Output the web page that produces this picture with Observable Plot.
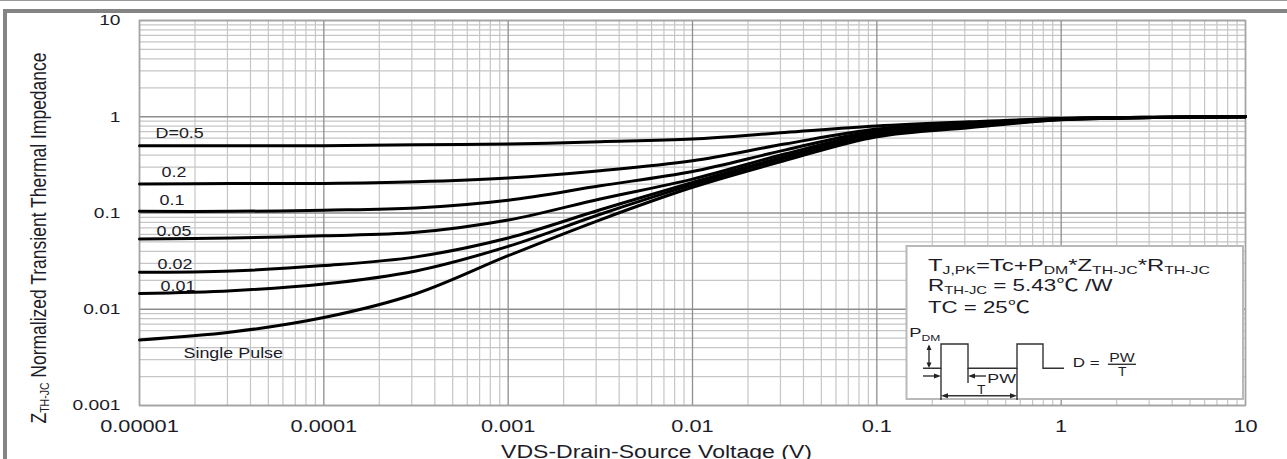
<!DOCTYPE html>
<html><head><meta charset="utf-8">
<script src="https://cdn.jsdelivr.net/npm/d3@7"></script>
<script src="https://cdn.jsdelivr.net/npm/@observablehq/plot@0.6"></script>
<style>
body{margin:0;background:#fff;}
#wrap{position:relative;width:1287px;height:459px;overflow:hidden;font-family:"Liberation Sans",Arial,sans-serif;background:#fff;}
#wrap svg{position:absolute;left:0;top:0;}
.bar{position:absolute;background:#848484;}
</style></head><body>
<div id="wrap"></div>
<script>
// ---- data ----
const pulseWidths = [1e-5, 3.16e-5, 1e-4, 3.16e-4, 1e-3, 3.16e-3, 1e-2, 3.16e-2, 0.1, 0.316, 1, 3.16, 10];
const seriesNames = ["D=0.5", "0.2", "0.1", "0.05", "0.02", "0.01", "Single Pulse"];
const zD05    = [0.50, 0.50, 0.50, 0.512, 0.52, 0.55, 0.587, 0.687, 0.80, 0.885, 0.96, 0.99, 1.0];
const zD02    = [0.20, 0.202, 0.203, 0.211, 0.231, 0.275, 0.349, 0.52, 0.745, 0.86, 0.955, 0.99, 1.0];
const zD01    = [0.104, 0.104, 0.107, 0.113, 0.136, 0.192, 0.27, 0.45, 0.716, 0.84, 0.95, 0.985, 1.0];
const zD005   = [0.0537, 0.055, 0.058, 0.063, 0.0846, 0.14, 0.225, 0.41, 0.687, 0.82, 0.945, 0.985, 1.0];
const zD002   = [0.0242, 0.025, 0.0284, 0.035, 0.055, 0.108, 0.208, 0.385, 0.66, 0.80, 0.94, 0.98, 1.0];
const zD001   = [0.0146, 0.0156, 0.0183, 0.025, 0.045, 0.097, 0.197, 0.373, 0.645, 0.79, 0.935, 0.98, 1.0];
const zSingle = [0.0048, 0.0058, 0.0082, 0.0145, 0.036, 0.085, 0.185, 0.35, 0.62, 0.77, 0.93, 0.98, 1.0];
const xMajor = [1e-5, 1e-4, 1e-3, 1e-2, 1e-1, 1, 10];
const xTickLabels = ["0.00001", "0.0001", "0.001", "0.01", "0.1", "1", "10"];
const yMajor = [0.001, 0.01, 0.1, 1, 10];
const yTickLabels = ["0.001", "0.01", "0.1", "1", "10"];
const minorMultipliers = [2, 3, 4, 5, 6, 7, 8, 9];
const xLabel = "VDS-Drain-Source Voltage (V)";

// ---- build table ----
const seriesValues = [zD05, zD02, zD01, zD005, zD002, zD001, zSingle];
const rows = seriesValues.flatMap((vals, s) => vals.map((z, i) => ({t: pulseWidths[i], z, series: seriesNames[s]})));
const firstPoints = seriesValues.map((vals, s) => ({t: pulseWidths[0], z: vals[0], label: seriesNames[s]}));
const xMinor = xMajor.slice(0, -1).flatMap(d => minorMultipliers.map(k => k * d));
const yMinor = yMajor.slice(0, -1).flatMap(d => minorMultipliers.map(k => k * d));

// label placement (pixel offsets from curve start) — style, not data
const labelOffsets = [[16, -8], [22, -7], [20, -6], [17, -3], [18, -3], [21, -2], [44, 18]];

const S = 1.28; // horizontal stretch of the reference glyphs
const ink = "#1c1c28";

const chart = Plot.plot({
  width: 1287, height: 459,
  marginLeft: 139, marginRight: 42, marginTop: 20, marginBottom: 54,
  x: {type: "log", domain: [1e-5, 10]},
  y: {type: "log", domain: [0.001, 10]},
  style: {fontFamily: "'Liberation Sans', Arial, sans-serif", background: "transparent", color: ink},
  marks: [
    Plot.ruleX(xMinor, {stroke: "#c6c6c6", strokeWidth: 1.2}),
    Plot.ruleY(yMinor, {stroke: "#c6c6c6", strokeWidth: 1.2}),
    Plot.ruleX(xMajor, {stroke: "#8e8e8e", strokeWidth: 1.3}),
    Plot.ruleY(yMajor, {stroke: "#8e8e8e", strokeWidth: 1.3}),
    Plot.frame({stroke: "#a4a4a4", strokeWidth: 1.5}),
    Plot.axisX(xMajor, {tickSize: 0, tickPadding: 14, fontSize: 17, label: null,
      tickFormat: d => xTickLabels[xMajor.indexOf(d)]}),
    Plot.axisY(yMajor, {tickSize: 0, tickPadding: 19, fontSize: 15, label: null,
      tickFormat: d => yTickLabels[yMajor.indexOf(d)]}),
    Plot.line(rows, {x: "t", y: "z", z: "series", stroke: "#000", strokeWidth: 3, curve: "catmull-rom"}),
    ...firstPoints.map((p, i) => Plot.text([p], {x: "t", y: "z", text: "label", textAnchor: "start",
      lineAnchor: "bottom", dx: labelOffsets[i][0], dy: labelOffsets[i][1], fontSize: 14, fill: ink})),
    Plot.text([xLabel], {frameAnchor: "bottom", dx: -36, dy: 52, lineAnchor: "bottom", fontSize: 18, fill: ink})
  ]
});

const wrap = document.getElementById("wrap");
wrap.appendChild(chart);
// frame bars of the reference picture
[["left:0;top:0;width:1287px;height:1px;background:#9a9a9a"],
 ["left:3px;top:9px;width:1284px;height:3.5px"],
 ["left:3px;top:9px;width:4px;height:450px"]].forEach(([st]) => {
  const d = document.createElement("div"); d.className = "bar"; d.setAttribute("style", st); wrap.appendChild(d);
});

function stretch(el, s, anchor) {
  const b = el.getBBox();
  const ta = anchor || getComputedStyle(el).textAnchor;
  const ax = ta === "end" ? b.x + b.width : ta === "middle" ? b.x + b.width / 2 : b.x;
  const t = el.getAttribute("transform") || "";
  el.setAttribute("transform", `${t} translate(${ax},0) scale(${s},1) translate(${-ax},0)`);
}
chart.querySelectorAll("text").forEach(el => stretch(el, S));

const svg = d3.select(chart);
// rotated y label with subscript
const yl = svg.append("text")
  .attr("transform", `translate(45.5,238) scale(${S},1) rotate(-90)`)
  .attr("text-anchor", "middle").attr("fill", ink).attr("font-size", 17.5);
yl.append("tspan").text("Z");
yl.append("tspan").attr("font-size", 10.5).attr("dy", 3).text("TH-JC");
yl.append("tspan").attr("dy", -3).text(" Normalized Transient Thermal Impedance");

// annotation box
const g = svg.append("g").attr("fill", ink).attr("text-anchor", "start")
  .attr("font-family", "'Liberation Sans', Arial, sans-serif");
g.append("rect").attr("x", 906.5).attr("y", 246).attr("width", 336.5).attr("height", 153)
  .attr("fill", "#fff").attr("stroke", "#b9b9b9").attr("stroke-width", 2);
function richLine(parts, x, y, size, target) {
  const t = g.append("text").attr("x", x).attr("y", y).attr("font-size", size).attr("text-anchor", "start");
  parts.forEach(([txt, kind]) => {
    const sp = t.append("tspan").attr("font-size", kind === 1 ? size * 0.66 : size)
      .attr("baseline-shift", kind === 1 ? "-3" : null).text(txt);
    if (kind === 2) sp.attr("font-family", "'Noto Sans CJK SC', sans-serif");
  });
  const b = t.node().getBBox();
  stretch(t.node(), target / b.width, "start");
  return t;
}
richLine([["T"], ["J,PK", 1], ["=Tc+P"], ["DM", 1], ["*Z"], ["TH-JC", 1], ["*R"], ["TH-JC", 1]], 928, 270.7, 16.5, 282);
richLine([["R"], ["TH-JC", 1], [" = 5.43"], ["℃", 2], [" /W"]], 928, 290.7, 16.5, 185);
richLine([["TC = 25"], ["℃", 2]], 928, 313.3, 16.5, 102);
richLine([["P"], ["DM", 1]], 909.3, 337.3, 13, 31);
const ln = (pts) => g.append("path").attr("d", d3.line()(pts)).attr("fill", "none").attr("stroke", "#333").attr("stroke-width", 1.4);
const tri = (pts) => g.append("path").attr("d", d3.line()(pts) + "Z").attr("fill", "#222");
ln([[923, 368.3], [941, 368.3], [941, 344], [968, 344], [968, 368.3], [1017, 368.3], [1017, 344], [1043, 344], [1043, 368.3], [1064, 368.3]]);
// vertical double arrow P_DM
ln([[929, 346], [929, 366]]); tri([[926.5, 350], [931.5, 350], [929, 344.5]]); tri([[926.5, 362.5], [931.5, 362.5], [929, 368]]);
// guide verticals
ln([[941, 368.3], [941, 400]]); ln([[968, 368.3], [968, 383]]); ln([[1017, 368.3], [1017, 400]]);
// PW arrows
ln([[923, 376], [938, 376]]); tri([[934, 373.5], [934, 378.5], [941, 376]]);
ln([[971, 376], [986, 376]]); tri([[975, 373.5], [975, 378.5], [968, 376]]);
// T arrow
ln([[944, 395.7], [1014, 395.7]]); tri([[948, 393.2], [948, 398.2], [941, 395.7]]); tri([[1010, 393.2], [1010, 398.2], [1017, 395.7]]);
richLine([["PW"]], 987.3, 382.7, 13.5, 29);
richLine([["T"]], 977, 394, 13, 8.5);
richLine([["D ="]], 1072.7, 367.3, 13.5, 27);
richLine([["PW"]], 1109.3, 361.7, 13.5, 25.7);
ln([[1108, 364.3], [1136, 364.3]]);
richLine([["T"]], 1118, 376, 13, 8.5);
</script>
</body></html>
